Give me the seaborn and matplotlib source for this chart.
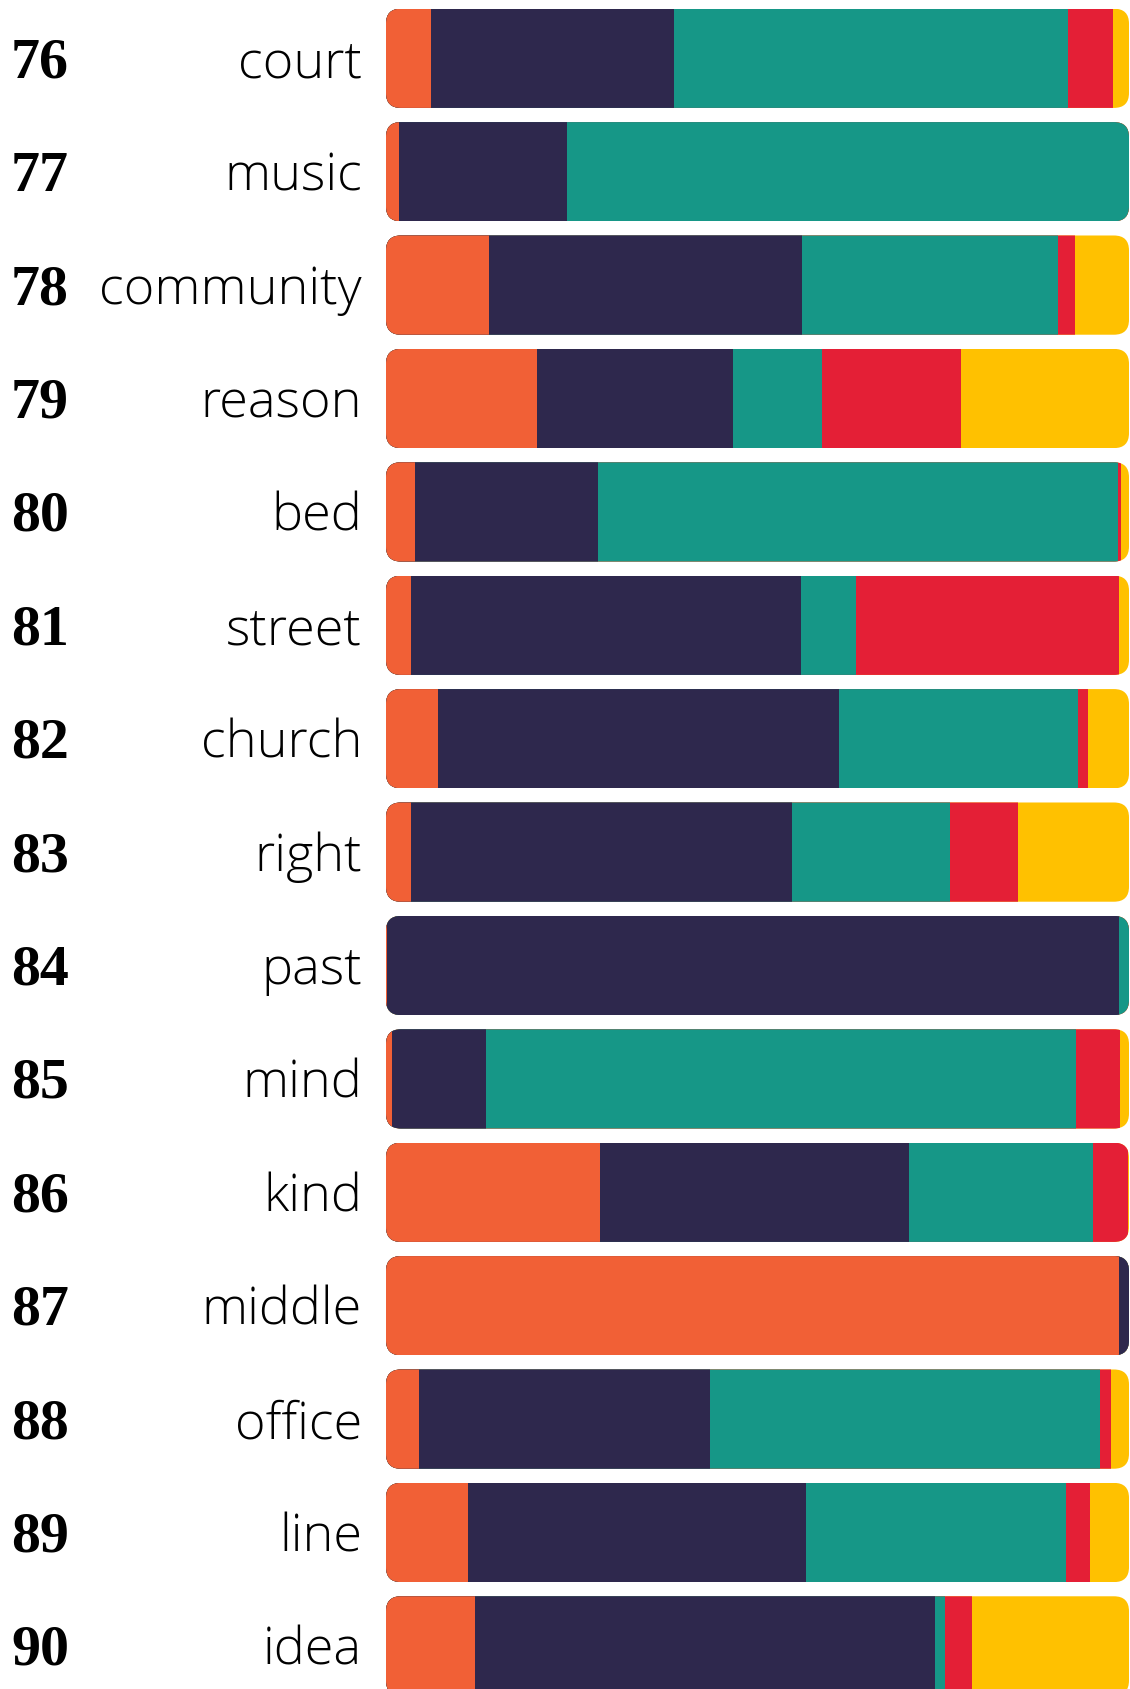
import numpy as np
import pandas as pd
import matplotlib
matplotlib.use('Agg')
import matplotlib.pyplot as plt
import matplotlib.transforms as mtransforms
from matplotlib.patches import FancyBboxPatch
import seaborn as sns

# %% data (share of each colour in every bar)
ranks = [76, 77, 78, 79, 80, 81, 82, 83, 84, 85, 86, 87, 88, 89, 90]
words = ['court', 'music', 'community', 'reason', 'bed', 'street', 'church',
         'right', 'past', 'mind', 'kind', 'middle', 'office', 'line', 'idea']

orange = [0.060, 0.018, 0.138, 0.203, 0.039, 0.034, 0.070, 0.034, 0.002, 0.008, 0.288, 0.987, 0.045, 0.110, 0.120]
navy   = [0.327, 0.226, 0.422, 0.264, 0.247, 0.524, 0.540, 0.513, 0.984, 0.126, 0.416, 0.013, 0.391, 0.455, 0.619]
teal   = [0.531, 0.756, 0.345, 0.120, 0.699, 0.075, 0.321, 0.212, 0.014, 0.794, 0.248, 0.000, 0.525, 0.350, 0.013]
red    = [0.061, 0.000, 0.022, 0.187, 0.004, 0.353, 0.014, 0.092, 0.000, 0.060, 0.046, 0.000, 0.015, 0.033, 0.037]
yellow = [0.021, 0.000, 0.073, 0.226, 0.011, 0.014, 0.055, 0.149, 0.000, 0.012, 0.002, 0.000, 0.024, 0.052, 0.211]

parts = ['orange', 'navy', 'teal', 'red', 'yellow']
colors = ['#F16036', '#2E284D', '#169787', '#E41F36', '#FFC100']

df = pd.DataFrame({'word': words, 'orange': orange, 'navy': navy,
                   'teal': teal, 'red': red, 'yellow': yellow})
df[parts] = df[parts].div(df[parts].sum(axis=1), axis=0)
cum = df[parts].cumsum(axis=1)

# %% layout (pixels of the 1130x1690 canvas)
W, H = 1130, 1690
bar_left, bar_right = 386, 1129
row_pitch = 113.4
first_center = 59.3
bar_h = 0.875
corner = 15

sns.set_style('white')
fig = plt.figure(figsize=(W / 100, H / 100), dpi=100)
ax = fig.add_axes([bar_left / W, 0, (bar_right - bar_left) / W, 1])

# stacked bars: draw cumulative totals back to front
for part, col in reversed(list(zip(parts, colors))):
    sns.barplot(x=cum[part], y=df['word'], order=words, color=col, orient='h',
                width=bar_h, errorbar=None, saturation=1, linewidth=0, ax=ax)

y_top = -first_center / row_pitch
y_bot = (H - first_center) / row_pitch
ax.set_xlim(0, 1)
ax.set_ylim(y_bot, y_top)
ax.axis('off')

# rounded ends: clip every segment to its row's rounded box
rx = corner / (bar_right - bar_left)
ry = corner / row_pitch
clips = []
for i in range(len(words)):
    box = FancyBboxPatch((0, i - bar_h / 2), 1, bar_h,
                         boxstyle=f'round,pad=0,rounding_size={rx}',
                         mutation_aspect=ry / rx, transform=ax.transData)
    clips.append(box)
for p in ax.patches:
    i = int(round(p.get_y() + p.get_height() / 2))
    p.set_clip_path(clips[i])

# labels
trans = mtransforms.blended_transform_factory(fig.transFigure, ax.transData)
base_off = 18 / row_pitch
for i, (r, w) in enumerate(zip(ranks, words)):
    ax.text(11 / W, i + base_off, str(r), transform=trans, ha='left', va='baseline',
            fontsize=41.8, fontweight='bold', family='Liberation Serif', color='black')
    ax.text(362 / W, i + base_off, w, transform=trans, ha='right', va='baseline',
            fontsize=37.6, fontweight='light', family='Open Sans', color='black')

fig.savefig('out.png', dpi=100)
